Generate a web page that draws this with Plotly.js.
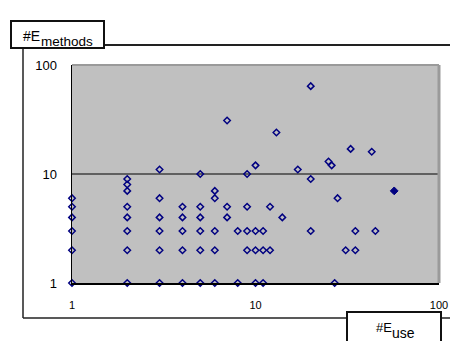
<!DOCTYPE html>
<html>
<head>
<meta charset="utf-8">
<script src="https://cdn.plot.ly/plotly-3.0.1.min.js"></script>
<style>html,body{margin:0;padding:0;background:#fff;}#chart{width:450px;height:341px;}</style>
</head>
<body>
<div id="chart"></div>
<script>
// #E_use values (x) and #E_methods values (y), one entry per point
const usesX = [
  1,1,1,1,1,1,
  2,2,2,2,2,2,2,2,
  3,3,3,3,3,3,
  4,4,4,4,4,
  5,5,5,5,5,5,
  6,6,6,6,6,
  7,7,7,
  8,8,
  9,9,9,9,
  10,10,10,10,
  11,11,11,
  12,12,
  13,14,17,
  20,20,20,
  25,26,27,28,31,33,
  35,35,43,45
];
const methodsY = [
  1,2,3,4,5,6,
  1,2,3,4,5,7,8,9,
  1,2,3,4,6,11,
  1,2,3,4,5,
  1,2,3,4,5,10,
  1,2,3,6,7,
  4,5,31,
  1,3,
  2,3,5,10,
  1,2,3,12,
  1,2,3,
  2,5,
  24,4,11,
  3,9,64,
  13,12,1,6,2,17,
  2,3,16,3
];
// highlighted (filled) point
const filledX = [57];
const filledY = [7];

const xTickVals = [1, 10, 100];
const xTickText = ['1', '10', '100'];
const yTickVals = [1, 10, 100];
const yTickText = ['1', '10', '100'];

// layout geometry (pixels)
const W = 450, H = 341;
const PL = 72, PR = 439, PT = 65, PB = 283;
const px = v => (v - PL) / (PR - PL);
const py = v => (PB - v) / (PB - PT);

const traces = [
  {
    type: 'scatter', mode: 'markers', x: usesX, y: methodsY, cliponaxis: false,
    marker: {symbol: 'diamond-open', size: 5, color: '#000080', line: {width: 1.5, color: '#000080'}},
    hoverinfo: 'x+y', showlegend: false
  },
  {
    type: 'scatter', mode: 'markers', x: filledX, y: filledY, cliponaxis: false,
    marker: {symbol: 'diamond', size: 6, color: '#000080', line: {width: 1, color: '#000080'}},
    hoverinfo: 'x+y', showlegend: false
  }
];

const lineBlack = {color: '#111', width: 2};
const shapes = [
  // gridline at 10
  {type: 'line', xref: 'paper', yref: 'y', x0: 0, x1: 1, y0: 10, y1: 10, line: {color: '#000', width: 1}, layer: 'below'},
  // plot border top/right (grey)
  {type: 'line', xref: 'paper', yref: 'paper', x0: 0, x1: 1, y0: 1, y1: 1, line: {color: '#9a9a9a', width: 2}, layer: 'below'},
  {type: 'line', xref: 'paper', yref: 'paper', x0: 1, x1: 1, y0: 0, y1: 1, line: {color: '#9a9a9a', width: 3}, layer: 'below'},
  // frame lines
  {type: 'line', xref: 'paper', yref: 'paper', x0: px(104), x1: px(450), y0: py(45), y1: py(45), line: {color: '#222', width: 2}},
  {type: 'line', xref: 'paper', yref: 'paper', x0: px(23), x1: px(23), y0: py(48), y1: py(318), line: {color: '#222', width: 1.5}},
  {type: 'line', xref: 'paper', yref: 'paper', x0: px(23), x1: px(347), y0: py(318), y1: py(318), line: {color: '#222', width: 1.5}},
  {type: 'line', xref: 'paper', yref: 'paper', x0: px(441), x1: px(450), y0: py(318), y1: py(318), line: {color: '#222', width: 1.5}},
  // title boxes
  {type: 'rect', xref: 'paper', yref: 'paper', x0: px(11), x1: px(104), y0: py(21), y1: py(48), line: lineBlack, fillcolor: '#fff'},
  {type: 'rect', xref: 'paper', yref: 'paper', x0: px(347), x1: px(441), y0: py(312), y1: py(346), line: lineBlack, fillcolor: '#fff'}
];

const font = 'Liberation Sans, Arial, sans-serif';
const annotations = [
  {xref: 'paper', yref: 'paper', x: px(21), y: py(36.5), xanchor: 'left', yanchor: 'middle', showarrow: false,
   text: '#E', font: {family: font, size: 14, color: '#000'}},
  {xref: 'paper', yref: 'paper', x: px(39), y: py(41.5), xanchor: 'left', yanchor: 'middle', showarrow: false,
   text: 'methods', font: {family: font, size: 13.5, color: '#000'}},
  {xref: 'paper', yref: 'paper', x: px(374), y: py(327.5), xanchor: 'left', yanchor: 'middle', showarrow: false,
   text: '#E', font: {family: font, size: 13, color: '#000'}},
  {xref: 'paper', yref: 'paper', x: px(390), y: py(332.5), xanchor: 'left', yanchor: 'middle', showarrow: false,
   text: 'use', font: {family: font, size: 14, color: '#000'}}
];

const layout = {
  width: W, height: H,
  margin: {l: PL, r: W - PR, t: PT, b: H - PB, pad: 0},
  paper_bgcolor: '#ffffff', plot_bgcolor: '#c0c0c0',
  font: {family: font, color: '#000'},
  xaxis: {
    type: 'log', range: [0, 2], tickvals: xTickVals, ticktext: xTickText,
    showgrid: false, zeroline: false, showline: true, linecolor: '#000', linewidth: 1.5,
    ticks: 'outside', ticklen: 11, tickcolor: 'rgba(0,0,0,0)', tickfont: {size: 11, family: font},
    fixedrange: true
  },
  yaxis: {
    type: 'log', range: [0, 2], tickvals: yTickVals, ticktext: yTickText,
    showgrid: false, zeroline: false, showline: true, linecolor: '#000', linewidth: 1.5,
    ticks: 'outside', ticklen: 11, tickcolor: 'rgba(0,0,0,0)', tickfont: {size: 13, family: font},
    fixedrange: true
  },
  shapes: shapes,
  annotations: annotations,
  showlegend: false
};

Plotly.newPlot('chart', traces, layout, {displayModeBar: false, staticPlot: true});
</script>
</body>
</html>
